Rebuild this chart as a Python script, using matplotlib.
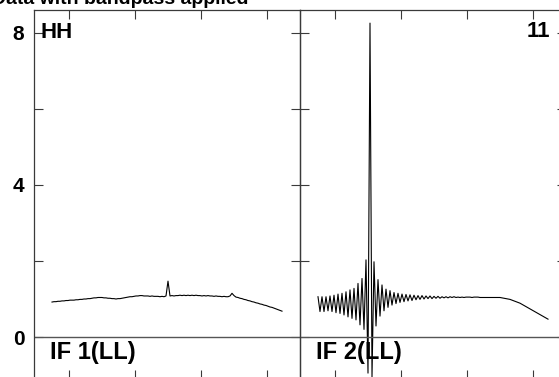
import matplotlib
matplotlib.use('Agg')
import matplotlib.pyplot as plt
from matplotlib.ticker import FixedLocator, NullFormatter

plt.rcParams['font.family'] = ['Liberation Sans', 'DejaVu Sans']
plt.rcParams['font.weight'] = 'bold'

# ---- data ----
channels = list(range(7, 123))  # 116 channels

if1_amp = [
    0.92, 0.93, 0.93, 0.94, 0.94, 0.95, 0.95, 0.96, 0.96, 0.97,
    0.97, 0.97, 0.98, 0.98, 0.99, 0.99, 1.00, 1.00, 1.01, 1.01,
    1.02, 1.03, 1.03, 1.04, 1.04, 1.04, 1.03, 1.03, 1.02, 1.02,
    1.01, 1.01, 1.00, 1.01, 1.01, 1.02, 1.03, 1.04, 1.05, 1.06,
    1.06, 1.07, 1.08, 1.08, 1.09, 1.09, 1.08, 1.08, 1.08, 1.07,
    1.08, 1.07, 1.07, 1.07, 1.06, 1.07, 1.06, 1.08, 1.47, 1.08,
    1.09, 1.08, 1.09, 1.09, 1.10, 1.09, 1.10, 1.09, 1.10, 1.09,
    1.10, 1.09, 1.10, 1.09, 1.09, 1.08, 1.09, 1.08, 1.09, 1.08,
    1.08, 1.07, 1.08, 1.07, 1.07, 1.06, 1.07, 1.06, 1.06, 1.08,
    1.15, 1.09, 1.05, 1.04, 1.02, 1.01, 0.99, 0.98, 0.96, 0.95,
    0.93, 0.92, 0.90, 0.89, 0.87, 0.86, 0.84, 0.83, 0.81, 0.79,
    0.78, 0.76, 0.74, 0.72, 0.70, 0.68,
]

if2_amp = [
    1.06, 0.67, 1.06, 0.67, 1.06, 0.69, 1.08, 0.67, 1.10, 0.64,
    1.13, 0.62, 1.15, 0.58, 1.19, 0.53, 1.24, 0.49, 1.28, 0.45,
    1.41, 0.32, 1.54, 0.20, 2.03, -0.95, 8.26, -1.05, 1.98, 0.29,
    1.51, 0.55, 1.37, 0.69, 1.26, 0.78, 1.22, 0.84, 1.17, 0.88,
    1.15, 0.91, 1.13, 0.93, 1.12, 0.95, 1.11, 0.96, 1.10, 0.98,
    1.09, 0.99, 1.09, 1.00, 1.08, 1.01, 1.08, 1.01, 1.07, 1.02,
    1.07, 1.02, 1.06, 1.03, 1.06, 1.03, 1.06, 1.04, 1.06, 1.04,
    1.05, 1.04, 1.05, 1.04, 1.05, 1.05, 1.05, 1.04, 1.05, 1.05,
    1.05, 1.04, 1.04, 1.04, 1.04, 1.04, 1.04, 1.04, 1.04, 1.04,
    1.04, 1.04, 1.03, 1.02, 1.01, 1.00, 0.99, 0.97, 0.95, 0.93,
    0.91, 0.89, 0.86, 0.83, 0.80, 0.77, 0.74, 0.71, 0.68, 0.65,
    0.62, 0.59, 0.56, 0.53, 0.50, 0.47,
]

y_ticks = [0, 2, 4, 6, 8]
y_ticklabels = ['0', '', '4', '', '8']
x_ticks = [15.5, 48.5, 81.5, 114.5]
panel_labels = ['IF 1(LL)', 'IF 2(LL)']
corner_left = 'HH'
corner_right = '11'
title = 'Data with bandpass applied'

# ---- layout ----
W, H = 559, 377
fig = plt.figure(figsize=(W / 100, H / 100), dpi=100)


def px_axes(x0, y0, x1, y1):
    return fig.add_axes([x0 / W, 1 - y1 / H, (x1 - x0) / W, (y1 - y0) / H])


ax1 = px_axes(34, 10, 300, 379)
ax2 = px_axes(300, 10, 566, 379)

frame_col = '#3a3a3a'
for ax, amp, lab in [(ax1, if1_amp, panel_labels[0]), (ax2, if2_amp, panel_labels[1])]:
    ax.plot(channels, amp, color='black', lw=0.8, clip_on=False)
    ax.axhline(0, color='#555555', lw=1.0)
    ax.set_xlim(-2, 131)
    ax.set_ylim(-1.105, 8.605)
    ax.xaxis.set_major_locator(FixedLocator(x_ticks))
    ax.xaxis.set_major_formatter(NullFormatter())
    ax.yaxis.set_major_locator(FixedLocator(y_ticks))
    ax.tick_params(direction='in', length=6.5, width=0.8, color=frame_col,
                   top=True, right=True, bottom=True, left=True)
    for s in ax.spines.values():
        s.set_color(frame_col)
        s.set_linewidth(0.9)
    ax.text(16 / 266, 1 - (359 - 10) / 369, lab, transform=ax.transAxes,
            fontsize=17, fontweight='bold', ha='left', va='baseline')
    ax.patch.set_alpha(0)

ax1.set_yticklabels(y_ticklabels)
ax1.tick_params(axis='y', labelsize=15, pad=7)
for t in ax1.get_yticklabels():
    t.set_fontweight('bold')
ax2.yaxis.set_major_formatter(NullFormatter())

ax1.text(7 / 266, 1 - (38 - 10) / 369, corner_left, transform=ax1.transAxes,
         fontsize=16, fontweight='bold', ha='left', va='baseline')
ax2.text((550 - 300) / 266, 1 - (37 - 10) / 369, corner_right, transform=ax2.transAxes,
         fontsize=16, fontweight='bold', ha='right', va='baseline')

fig.text(-8 / W, 1 - 4 / H, title, fontsize=14, fontweight='bold',
         ha='left', va='baseline')

fig.savefig('out.png', dpi=100)
